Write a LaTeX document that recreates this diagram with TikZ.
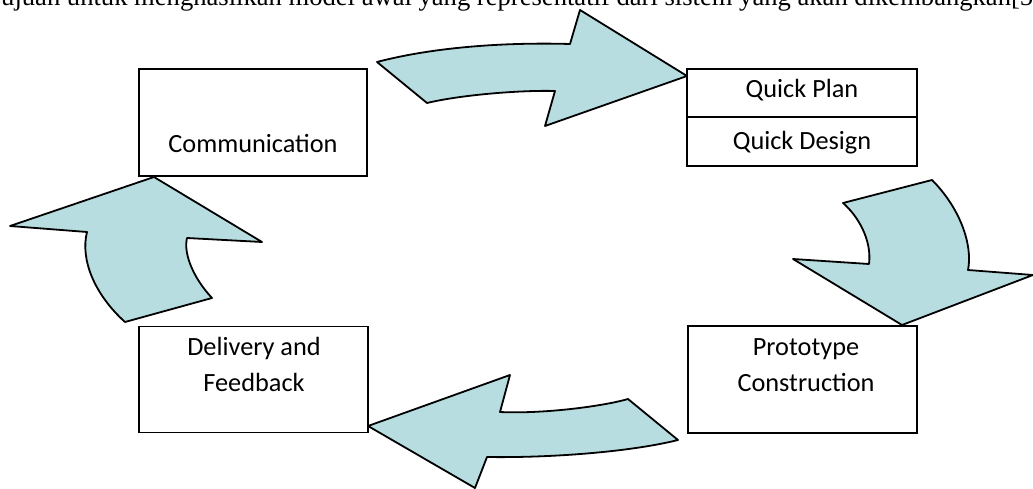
\documentclass[tikz,border=0pt]{standalone}
\usepackage{fontspec}
\setmainfont{Liberation Serif}
\newfontfamily\boxfont{Carlito}
\definecolor{arrowfill}{RGB}{183,221,225}
\tikzset{
  blockarrow/.style={fill=arrowfill, draw=black, line width=1.8pt, line join=round},
  stagebox/.style={draw=black, line width=1.2pt, rectangle, inner sep=0pt},
  stagetext/.style={font=\boxfont\fontsize{26.3}{36}\selectfont, align=center, inner sep=0pt},
}
\begin{document}
\begin{tikzpicture}[x=1pt,y=-1pt]
\useasboundingbox (0,0) rectangle (1033,489);
\clip (0,0) rectangle (1033,489);
\fill[white] (0,0) rectangle (1033,489);

% clipped line of running text at the top
\node[anchor=base west, inner sep=0pt, font=\fontsize{26.6}{30}\selectfont] (toptext) at (1,5.5)
  {ujuan untuk menghasilkan model awal yang representatif dari sistem yang akan dikembangkan[5};

% curved block arrows
\draw[blockarrow] (377,62) -- (427,103) .. controls (460,95) and (520,90) .. (555,91) -- (545,126) -- (687,76) -- (580,10) -- (570,44) .. controls (500,42) and (430,48) .. (377,62) -- cycle;
\draw[blockarrow] (932,180) -- (843,203) .. controls (858,216) and (872,240) .. (869,264) -- (793,259) -- (902,325) -- (1033,275) -- (968,270) .. controls (973,245) and (960,208) .. (932,180) -- cycle;
\draw[blockarrow] (628,399) -- (678,440) .. controls (630,452) and (550,458) .. (487,457) -- (475,488) -- (368,426) -- (510,375) -- (500,412) .. controls (540,414) and (600,407) .. (628,399) -- cycle;
\draw[blockarrow] (125,322) -- (212,298) .. controls (195,280) and (183,255) .. (187,238) -- (262,242) -- (154,177) -- (10,226) -- (87,232) .. controls (80,260) and (95,295) .. (125,322) -- cycle;

% boxes
\node[stagebox, minimum width=228pt, minimum height=107pt] (comm) at (253,122.5) {};
\node[stagetext] (commtext) at (253,144) {Communication};

\node[stagebox, minimum width=230pt, minimum height=48pt] (plan) at (802,93) {};
\node[stagetext] (plantext) at (802,90) {Quick Plan};
\node[stagebox, line width=2pt, minimum width=230pt, minimum height=49pt] (design) at (802,141.5) {};
\node[stagetext] (designtext) at (802,143) {Quick Design};

\node[stagebox, minimum width=229pt, minimum height=107pt] (proto) at (802.5,379.5) {};
\node[stagetext] (prototext) at (806,365) {Prototype\\Construction};

\node[stagebox, minimum width=229pt, minimum height=106pt] (deliv) at (253.5,379.5) {};
\node[stagetext] (delivtext) at (254,364) {Delivery and\\Feedback};
\end{tikzpicture}
\end{document}
